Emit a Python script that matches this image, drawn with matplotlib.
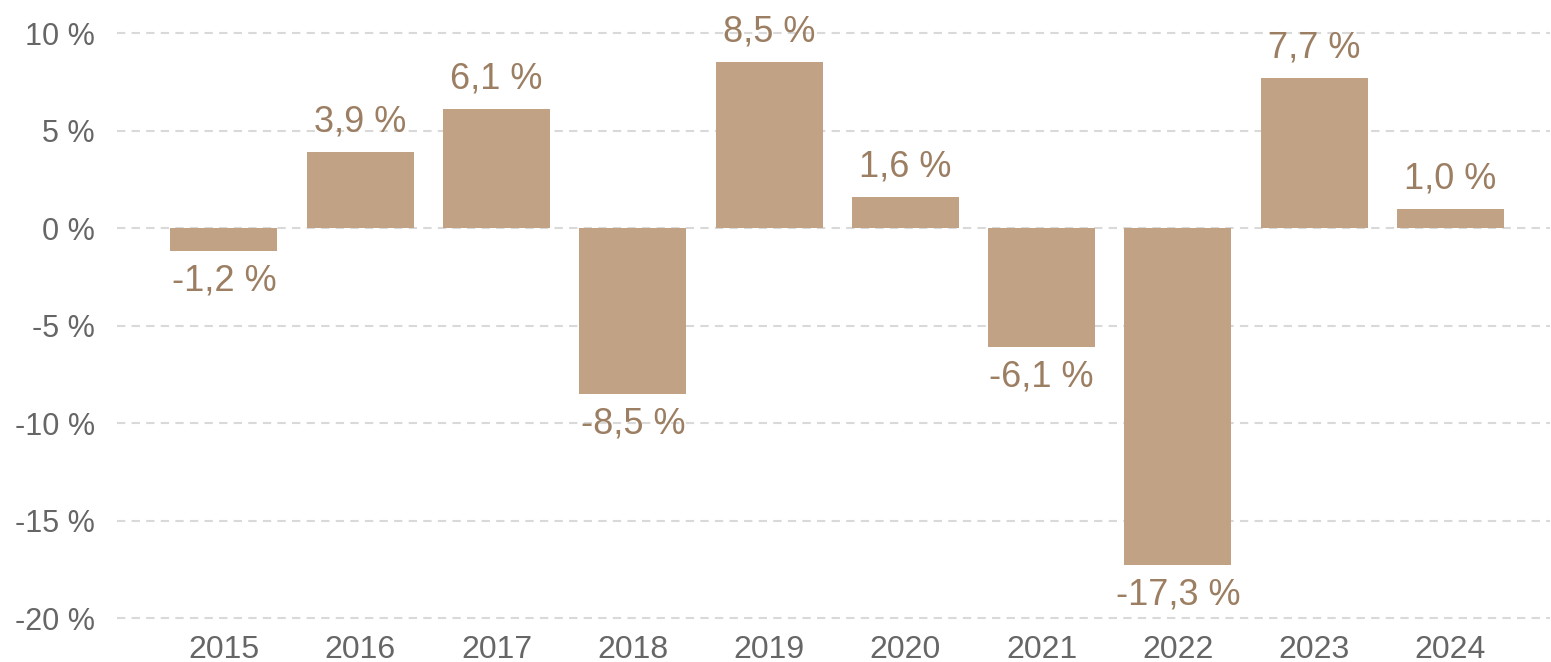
import matplotlib
matplotlib.use("Agg")
import matplotlib.pyplot as plt

# Annual returns per year (%)
years = ["2015", "2016", "2017", "2018", "2019", "2020", "2021", "2022", "2023", "2024"]
returns = [-1.2, 3.9, 6.1, -8.5, 8.5, 1.6, -6.1, -17.3, 7.7, 1.0]
yticks = [10, 5, 0, -5, -10, -15, -20]

bar_color = "#C2A285"
label_color = "#9C7E63"
tick_color = "#666666"

plt.rcParams["font.family"] = ["Liberation Sans", "DejaVu Sans"]

fig = plt.figure(figsize=(15.51, 6.62), dpi=100)
ax = fig.add_axes([117 / 1551, 0.0517, (1550 - 117) / 1551, 0.9131])

x = list(range(len(years)))
ax.bar(x, returns, width=0.785, color=bar_color, zorder=2)

# value labels above positive bars, below negative ones
for xi, v in zip(x, returns):
    txt = f"{v:.1f}".replace(".", ",") + " %"
    if v >= 0:
        ax.annotate(txt, (xi, v), xytext=(0, 9), textcoords="offset points",
                    ha="center", va="bottom", fontsize=26, color=label_color)
    else:
        ax.annotate(txt, (xi, v), xytext=(0, -9), textcoords="offset points",
                    ha="center", va="top", fontsize=26, color=label_color)

ax.set_xlim(-0.785, 9.73)
ax.set_ylim(-20.5, 10.5)
ax.set_xticks(x)
ax.set_xticklabels(years)
ax.set_yticks(yticks)
ax.set_yticklabels([f"{t} %" for t in yticks])

ax.yaxis.grid(True, color="#D9D9D9", linestyle=(0, (4, 3)), linewidth=1.5, zorder=0)
ax.set_axisbelow(True)
for s in ax.spines.values():
    s.set_visible(False)
ax.tick_params(axis="both", length=0, labelcolor=tick_color)
ax.tick_params(axis="y", pad=16, labelsize=22)
ax.tick_params(axis="x", pad=5, labelsize=23)

fig.savefig("out.png", dpi=100)
